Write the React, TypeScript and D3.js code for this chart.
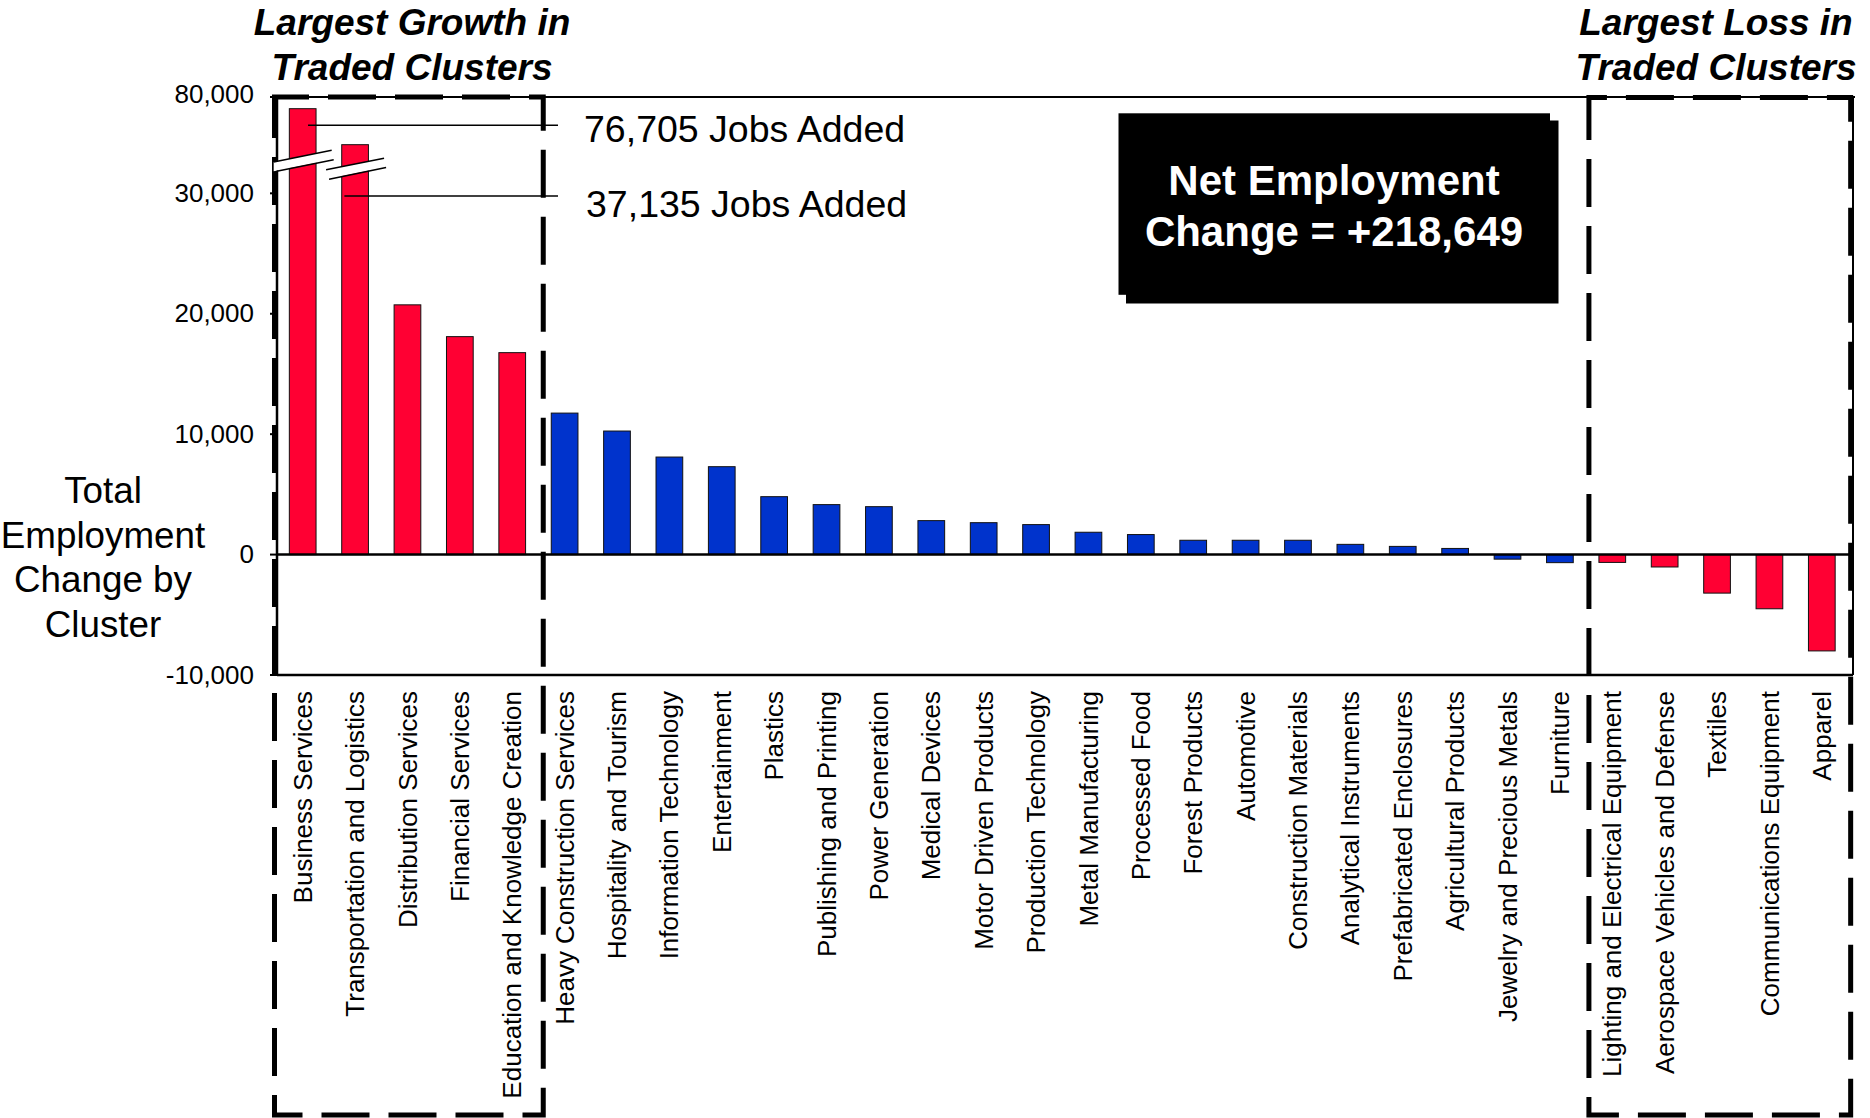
import React from "react";
import * as d3 from "d3";

// ---------- data ----------
const categories = [
  "Business Services",
  "Transportation and Logistics",
  "Distribution Services",
  "Financial Services",
  "Education and Knowledge Creation",
  "Heavy Construction Services",
  "Hospitality and Tourism",
  "Information Technology",
  "Entertainment",
  "Plastics",
  "Publishing and Printing",
  "Power Generation",
  "Medical Devices",
  "Motor Driven Products",
  "Production Technology",
  "Metal Manufacturing",
  "Processed Food",
  "Forest Products",
  "Automotive",
  "Construction Materials",
  "Analytical Instruments",
  "Prefabricated Enclosures",
  "Agricultural Products",
  "Jewelry and Precious Metals",
  "Furniture",
  "Lighting and Electrical Equipment",
  "Aerospace Vehicles and Defense",
  "Textiles",
  "Communications Equipment",
  "Apparel",
];

const values = [
  76705, 37135, 20740, 18100, 16770, 11750, 10260, 8100, 7300, 4810, 4150,
  3980, 2820, 2650, 2490, 1855, 1663, 1190, 1190, 1190, 850, 680, 510, -380,
  -670, -650, -1030, -3200, -4500, -8000,
];

const largestGrowth = categories.slice(0, 5);
const largestLoss = categories.slice(25);

// bars drawn with a broken axis: where they end on the linear axis
const brokenBars = ["Business Services", "Transportation and Logistics"];
const brokenAxisReading = [37030, 34040];
const breakAt = [32700, 32050];
const leaderAt = [35650, 29780];

const yTicks = [-10000, 0, 10000, 20000, 30000];
const axisTop = 38000;
const axisTopLabel = "80,000";
const netChange = 218649;

const yTitle = ["Total", "Employment", "Change by", "Cluster"];

// ---------- layout ----------
const W = 1870;
const H = 1118;
const FONT = "'Liberation Sans', Arial, Helvetica, sans-serif";
const RED = "#FF0033";
const BLUE = "#0033CC";

export default function App() {
  const plotLeft = 277;
  const plotRight = 1853;
  const plotTop = 97;
  const plotBottom = 675;

  const x = d3
    .scaleBand<string>()
    .domain(categories)
    .range([276.5, 1848])
    .paddingInner(0.49)
    .paddingOuter(0.245);
  const bw = x.bandwidth();

  const y = d3
    .scaleLinear()
    .domain([yTicks[0], axisTop])
    .range([plotBottom, plotTop]);

  const fmt = (v: number) => d3.format(",")(v).replace("\u2212", "-");

  const shown = (c: string, v: number) => {
    const bi = brokenBars.indexOf(c);
    return bi >= 0 ? brokenAxisReading[bi] : v;
  };

  const colorOf = (c: string) =>
    largestGrowth.includes(c) || largestLoss.includes(c) ? RED : BLUE;

  const leftBoxRight = (x(categories[5]) as number) - 8;
  const rightBoxLeft = (x(categories[25]) as number) - 10;
  const rightBoxRight = (x(categories[29]) as number) + bw + 15.5;
  const boxBottom = 1115;

  return (
    <svg
      width={W}
      height={H}
      style={{ position: "absolute", left: 0, top: 0, display: "block", background: "#fff" }}
      fontFamily={FONT}
    >
      <rect x={0} y={0} width={W} height={H} fill="#fff" />

      {/* plot frame */}
      <line x1={plotLeft} x2={plotRight + 2} y1={plotTop} y2={plotTop} stroke="#000" strokeWidth={2} />
      <line x1={plotRight} x2={plotRight} y1={plotTop} y2={plotBottom} stroke="#000" strokeWidth={2} />
      <line x1={plotLeft} x2={plotRight} y1={plotBottom} y2={plotBottom} stroke="#000" strokeWidth={2.5} />
      <line x1={plotLeft} x2={plotLeft} y1={plotTop - 1} y2={plotBottom + 1} stroke="#000" strokeWidth={2.5} />

      {/* y ticks */}
      {[...yTicks, axisTop].map((t) => (
        <line key={"t" + t} x1={plotLeft - 7} x2={plotLeft} y1={y(t)} y2={y(t)} stroke="#000" strokeWidth={2} />
      ))}
      {yTicks.map((t) => (
        <text key={"l" + t} x={254} y={y(t)} dy="0.33em" textAnchor="end" fontSize={26} fill="#000">
          {fmt(t)}
        </text>
      ))}
      <text x={254} y={y(axisTop) - 3} dy="0.33em" textAnchor="end" fontSize={26} fill="#000">
        {axisTopLabel}
      </text>

      {/* bars */}
      {categories.map((c, i) => {
        const v = shown(c, values[i]);
        const y0 = y(0);
        const y1 = y(v);
        return (
          <rect
            key={c}
            x={x(c)}
            y={Math.min(y0, y1)}
            width={bw}
            height={Math.abs(y1 - y0)}
            fill={colorOf(c)}
            stroke="#111"
            strokeWidth={1}
          />
        );
      })}

      {/* zero line */}
      <line x1={plotLeft} x2={plotRight} y1={y(0)} y2={y(0)} stroke="#000" strokeWidth={2.5} />

      {/* dashed boxes */}
      <rect
        x={plotLeft - 2.5}
        y={plotTop}
        width={leftBoxRight - (plotLeft - 2.5)}
        height={boxBottom - plotTop}
        fill="none"
        stroke="#000"
        strokeWidth={5}
        strokeDasharray="48 19"
        strokeDashoffset={13.5}
      />
      <rect
        x={rightBoxLeft}
        y={plotTop + 0.5}
        width={rightBoxRight - rightBoxLeft}
        height={boxBottom - plotTop - 0.5}
        fill="none"
        stroke="#000"
        strokeWidth={5}
        strokeDasharray="48 19"
        strokeDashoffset={30}
      />

      {/* axis breaks */}
      {brokenBars.map((c, i) => {
        const cx = (x(c) as number) + bw / 2;
        const cy = y(breakAt[i]);
        const hw = 29;
        const slope = -0.2;
        const t = 4.7;
        const xa = cx - hw;
        const xb = cx + hw;
        const ya = cy - slope * hw;
        const yb = cy + slope * hw;
        return (
          <g key={"brk" + c}>
            <polygon
              points={`${xa},${ya - t} ${xb},${yb - t} ${xb},${yb + t} ${xa},${ya + t}`}
              fill="#fff"
            />
            <line x1={xa} y1={ya - t} x2={xb} y2={yb - t} stroke="#000" strokeWidth={1.5} />
            <line x1={xa + 3} y1={ya + t} x2={xb + 2} y2={yb + t} stroke="#000" strokeWidth={1.5} />
          </g>
        );
      })}

      {/* leader lines and annotations */}
      {brokenBars.map((c, i) => {
        const idx = categories.indexOf(c);
        const xs = (x(c) as number) + bw * (i === 0 ? 0.7 : 0.1);
        const ly = y(leaderAt[i]);
        return (
          <g key={"ann" + c}>
            <line x1={xs} x2={558} y1={ly} y2={ly} stroke="#000" strokeWidth={1.6} />
            <text x={584 + i * 2} y={ly + (i === 0 ? 16.5 : 21)} fontSize={37.5} fill="#000">
              {fmt(values[idx])} Jobs Added
            </text>
          </g>
        );
      })}

      {/* category labels */}
      {categories.map((c) => (
        <text
          key={"c" + c}
          transform={`translate(${(x(c) as number) + bw / 2},691) rotate(-90)`}
          dy="0.35em"
          textAnchor="end"
          fontSize={26}
          fill="#000"
        >
          {c}
        </text>
      ))}

      {/* y-axis title */}
      {yTitle.map((s, i) => (
        <text key={"yt" + i} x={103} y={503 + i * 44.7} textAnchor="middle" fontSize={36.8} fill="#000">
          {s}
        </text>
      ))}

      {/* box titles */}
      <g fontWeight="bold" fontStyle="italic" fontSize={37} textAnchor="middle" fill="#000">
        <text x={412} y={35}>Largest Growth in</text>
        <text x={412} y={80}>Traded Clusters</text>
        <text x={1716} y={35}>Largest Loss in</text>
        <text x={1716} y={80}>Traded Clusters</text>
      </g>

      {/* net employment callout */}
      <rect x={1126} y={120.5} width={432.5} height={183} fill="#000" />
      <rect x={1118.5} y={113.3} width={431.5} height={181.5} fill="#000" />
      <g fontWeight="bold" fontSize={42} textAnchor="middle" fill="#fff">
        <text x={1334} y={195}>Net Employment</text>
        <text x={1334} y={245.5}>Change = +{fmt(netChange)}</text>
      </g>
    </svg>
  );
}
